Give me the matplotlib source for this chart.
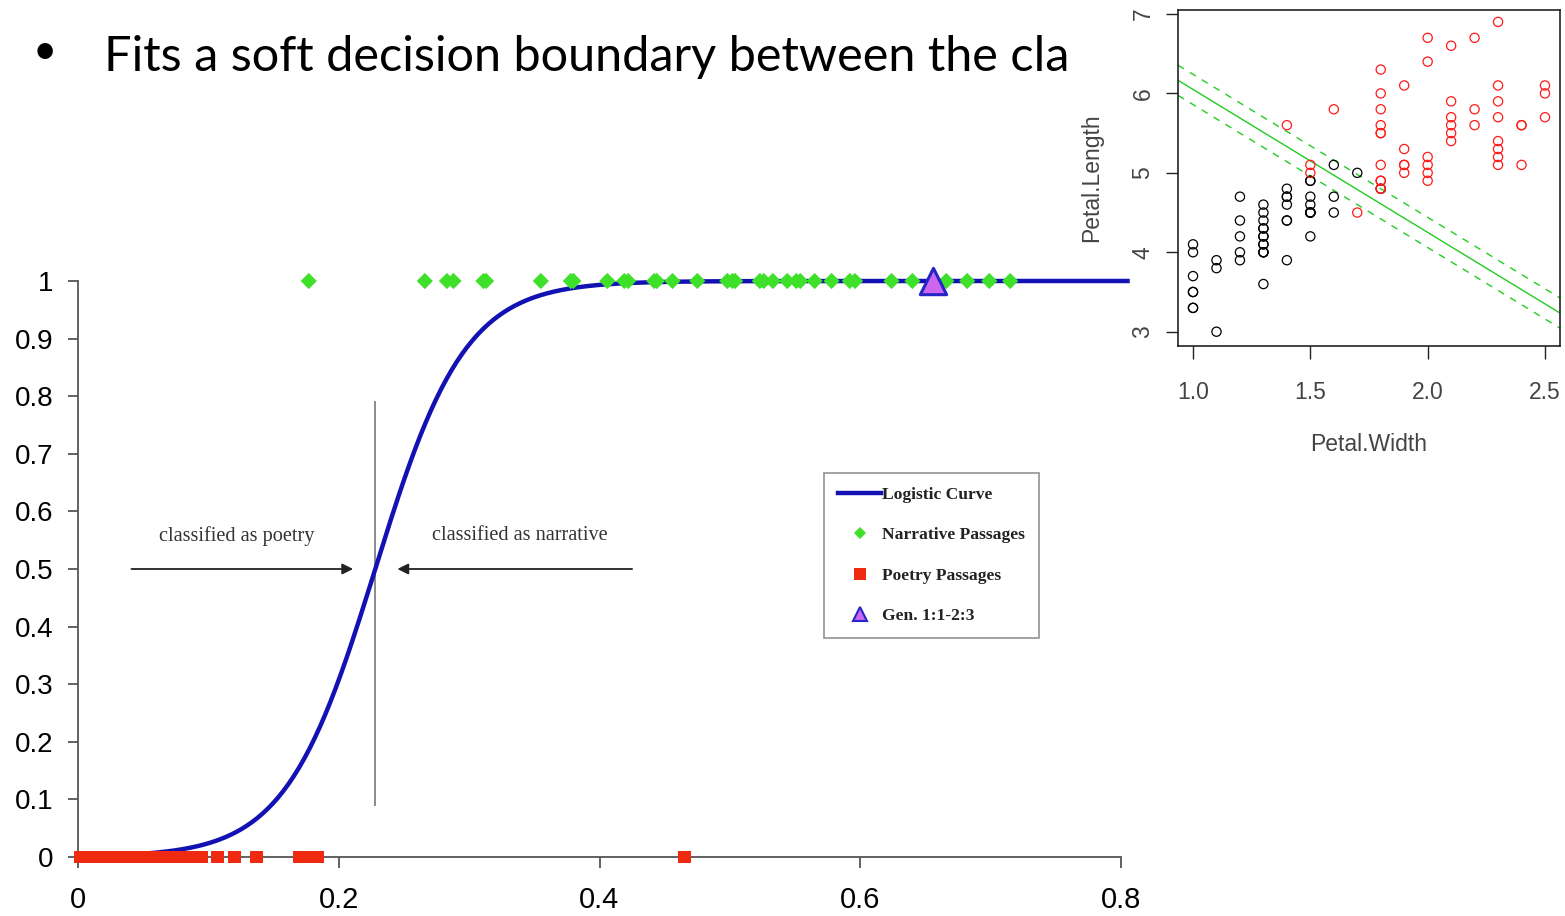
import matplotlib
matplotlib.use("Agg")
import matplotlib.pyplot as plt
from matplotlib.lines import Line2D
from matplotlib.patches import Rectangle
import numpy as np

# main chart: logistic classifier of passages
NARRATIVE_X = [0.177, 0.266, 0.283, 0.288, 0.311, 0.313, 0.355, 0.378, 0.380,
               0.406, 0.419, 0.422, 0.442, 0.444, 0.456, 0.475, 0.498, 0.502,
               0.504, 0.523, 0.526, 0.533, 0.544, 0.551, 0.554, 0.565, 0.578,
               0.592, 0.596, 0.624, 0.640, 0.666, 0.682, 0.699, 0.715]
POETRY_X = [0.002, 0.005, 0.008, 0.012, 0.015, 0.020, 0.025, 0.030, 0.035,
            0.040, 0.045, 0.050, 0.055, 0.060, 0.065, 0.070, 0.075, 0.080,
            0.085, 0.090, 0.095, 0.107, 0.120, 0.137, 0.170, 0.178, 0.184,
            0.465]
GENESIS_X = [0.656]
LOGIT_MID = 0.228
LOGIT_SLOPE = 29.0
X_TICKS = [0, 0.2, 0.4, 0.6, 0.8]
X_TICKLABELS = ["0", "0.2", "0.4", "0.6", "0.8"]
Y_TICKS = [0, 0.1, 0.2, 0.3, 0.4, 0.5, 0.6, 0.7, 0.8, 0.9, 1.0]
Y_TICKLABELS = ["0", "0.1", "0.2", "0.3", "0.4", "0.5", "0.6", "0.7", "0.8", "0.9", "1"]

# inset: iris petal measurements
VERSI_WIDTH = [1.4, 1.5, 1.5, 1.3, 1.5, 1.3, 1.6, 1.0, 1.3, 1.4, 1.0, 1.5, 1.0,
               1.4, 1.3, 1.4, 1.5, 1.0, 1.5, 1.1, 1.8, 1.3, 1.5, 1.2, 1.3, 1.4,
               1.4, 1.7, 1.5, 1.0, 1.1, 1.0, 1.2, 1.6, 1.5, 1.6, 1.5, 1.3, 1.3,
               1.3, 1.2, 1.4, 1.2, 1.0, 1.3, 1.2, 1.3, 1.3, 1.1, 1.3]
VERSI_LENGTH = [4.7, 4.5, 4.9, 4.0, 4.6, 4.5, 4.7, 3.3, 4.6, 3.9, 3.5, 4.2, 4.0,
                4.7, 3.6, 4.4, 4.5, 4.1, 4.5, 3.9, 4.8, 4.0, 4.9, 4.7, 4.3, 4.4,
                4.8, 5.0, 4.5, 3.5, 3.8, 3.7, 3.9, 5.1, 4.5, 4.5, 4.7, 4.4, 4.1,
                4.0, 4.4, 4.6, 4.0, 3.3, 4.2, 4.2, 4.2, 4.3, 3.0, 4.1]
VIRG_WIDTH = [2.5, 1.9, 2.1, 1.8, 2.2, 2.1, 1.7, 1.8, 1.8, 2.5, 2.0, 1.9, 2.1,
              2.0, 2.4, 2.3, 1.8, 2.2, 2.3, 1.5, 2.3, 2.0, 2.0, 1.8, 2.1, 1.8,
              1.8, 1.8, 2.1, 1.6, 1.9, 2.0, 2.2, 1.5, 1.4, 2.3, 2.4, 1.8, 1.8,
              2.1, 2.4, 2.3, 1.9, 2.3, 2.5, 2.3, 1.9, 2.0, 2.3, 1.8]
VIRG_LENGTH = [6.0, 5.1, 5.9, 5.6, 5.8, 6.6, 4.5, 6.3, 5.8, 6.1, 5.1, 5.3, 5.5,
               5.0, 5.1, 5.3, 5.5, 6.7, 6.9, 5.0, 5.7, 4.9, 6.7, 4.9, 5.7, 6.0,
               4.8, 4.9, 5.6, 5.8, 6.1, 6.4, 5.6, 5.1, 5.6, 6.1, 5.6, 5.5, 4.8,
               5.4, 5.6, 5.1, 5.1, 5.9, 5.7, 5.2, 5.0, 5.2, 5.4, 5.1]
BOUNDARY_INTERCEPT = 7.85
BOUNDARY_SLOPE = -1.8
BOUNDARY_MARGIN = 0.19

W, H = 1565, 916


def fx(px):
    return px / W


def fy(py):
    return 1 - py / H


fig = plt.figure(figsize=(15.65, 9.16), dpi=100)
fig.patch.set_facecolor("white")

# slide bullet text, partly hidden behind the inset picture
fig.text(fx(33), fy(52), "\u2022", fontsize=30, va="center", ha="left",
         family=["Lato", "DejaVu Sans"], zorder=1)
fig.text(fx(104), fy(71), "Fits a soft decision boundary between the classes",
         fontsize=35, va="baseline", ha="left", family=["Lato", "DejaVu Sans"],
         zorder=1)
fig.patches.append(Rectangle((fx(1068), fy(100)), 1 - fx(1068), fy(0) - fy(100),
                             transform=fig.transFigure, facecolor="white",
                             edgecolor="none", zorder=2))

# ---- main logistic chart ----
ax = fig.add_axes([fx(78), fy(857), fx(1121) - fx(78), fy(281) - fy(857)])
ax.set_xlim(0, 0.8)
ax.set_ylim(0, 1)
for side in ("top", "right"):
    ax.spines[side].set_visible(False)
for side in ("left", "bottom"):
    ax.spines[side].set_color("#555555")
    ax.spines[side].set_linewidth(1.3)
ax.set_xticks(X_TICKS)
ax.set_xticklabels(X_TICKLABELS, family=["Liberation Sans", "DejaVu Sans"],
                   fontsize=21)
ax.set_yticks(Y_TICKS)
ax.set_yticklabels(Y_TICKLABELS, family=["Liberation Sans", "DejaVu Sans"], fontsize=20)
ax.tick_params(axis="x", length=8, width=1.3, color="#555555", pad=13)
ax.tick_params(axis="y", length=7, width=1.3, color="#555555", pad=11)

xs = np.linspace(0, 0.805, 400)
ax.plot(xs, 1 / (1 + np.exp(-LOGIT_SLOPE * (xs - LOGIT_MID))), color="#1212b4",
        lw=3.2, clip_on=False, zorder=3)
ax.plot([LOGIT_MID, LOGIT_MID], [0.09, 0.79], color="#8a8a8a", lw=1.4, zorder=2)

ax.scatter(POETRY_X, [0] * len(POETRY_X), marker="s", s=85, color="#f02a10",
           edgecolors="none", clip_on=False, zorder=4)
ax.scatter(NARRATIVE_X, [1] * len(NARRATIVE_X), marker="D", s=68, color="#3ee02a",
           edgecolors="none", clip_on=False, zorder=4)
ax.scatter(GENESIS_X, [1] * len(GENESIS_X), marker="^", s=360, color="#cc66ee",
           edgecolors="#2525c8", linewidths=2.2, clip_on=False, zorder=5)

ax.annotate("", xy=(0.211, 0.5), xytext=(0.041, 0.5),
            arrowprops=dict(arrowstyle="-|>", color="#222222", lw=1.3,
                            mutation_scale=16, shrinkA=0, shrinkB=0))
ax.annotate("", xy=(0.245, 0.5), xytext=(0.425, 0.5),
            arrowprops=dict(arrowstyle="-|>", color="#222222", lw=1.3,
                            mutation_scale=16, shrinkA=0, shrinkB=0))
ax.text(0.122, 0.558, "classified as poetry", ha="center", va="center",
        fontsize=14.6, color="#333333", family=["Liberation Serif", "DejaVu Serif"])
ax.text(0.339, 0.558, "classified as narrative", ha="center", va="center",
        fontsize=14.6, color="#333333", family=["Liberation Serif", "DejaVu Serif"])

handles = [
    Line2D([0], [0], color="#1212b4", lw=3.2, label="Logistic Curve"),
    Line2D([0], [0], color="#3ee02a", marker="D", ls="none", markersize=6,
           markeredgewidth=0, label="Narrative Passages"),
    Line2D([0], [0], color="#f02a10", marker="s", ls="none", markersize=8,
           markeredgewidth=0, label="Poetry Passages"),
    Line2D([0], [0], color="#cc66ee", marker="^", ls="none", markersize=10,
           markeredgecolor="#2525c8", markeredgewidth=1.5, label="Gen. 1:1-2:3"),
]
leg = fig.legend(handles=handles, loc="upper left",
                 bbox_to_anchor=(fx(824), fy(473)), frameon=True, fancybox=False,
                 prop=dict(family=["Liberation Serif", "DejaVu Serif"],
                           weight="bold", size=12.6),
                 handlelength=2.5, handletextpad=0.05, labelspacing=1.38,
                 borderpad=0.78, borderaxespad=0)
leg.get_frame().set_edgecolor("#777777")
leg.get_frame().set_linewidth(1.2)
for txt in leg.get_texts():
    txt.set_color("#222222")

# ---- inset iris scatter ----
ins = fig.add_axes([fx(1178), fy(346), fx(1560) - fx(1178), fy(10) - fy(346)],
                   zorder=3)
ins.set_xlim(0.936, 2.564)
ins.set_ylim(2.82, 7.05)
ins.scatter(VERSI_WIDTH, VERSI_LENGTH, s=44, facecolors="none", edgecolors="black",
            linewidths=0.9, zorder=3)
ins.scatter(VIRG_WIDTH, VIRG_LENGTH, s=44, facecolors="none", edgecolors="#ff1a1a",
            linewidths=0.9, zorder=3)
ins.axline((0, BOUNDARY_INTERCEPT), slope=BOUNDARY_SLOPE, color="#22cc22", lw=1.0)
for off in (BOUNDARY_MARGIN, -BOUNDARY_MARGIN):
    ins.axline((0, BOUNDARY_INTERCEPT + off), slope=BOUNDARY_SLOPE, color="#22cc22",
               lw=1.0, ls=(0, (5, 5)))
ins.set_xticks([1.0, 1.5, 2.0, 2.5])
ins.set_xticklabels(["1.0", "1.5", "2.0", "2.5"])
ins.set_yticks([3, 4, 5, 6, 7])
ins.set_yticklabels(["3", "4", "5", "6", "7"], rotation=90, va="center")
ins.tick_params(axis="both", length=9, width=1.0, color="#222222", labelsize=16.5,
                labelcolor="#444444")
ins.tick_params(axis="x", pad=16)
ins.tick_params(axis="y", pad=8)
for spine in ins.spines.values():
    spine.set_linewidth(1.2)
    spine.set_color("#222222")
for lab in ins.get_xticklabels() + ins.get_yticklabels():
    lab.set_family(["Liberation Sans", "DejaVu Sans"])
ins.set_xlabel("Petal.Width", fontsize=16.5, color="#444444",
               family=["Liberation Sans", "DejaVu Sans"], labelpad=21)
ins.set_ylabel("Petal.Length", fontsize=16.5, color="#444444",
               family=["Liberation Sans", "DejaVu Sans"], labelpad=20)

fig.savefig("out.png", dpi=100, facecolor="white")
